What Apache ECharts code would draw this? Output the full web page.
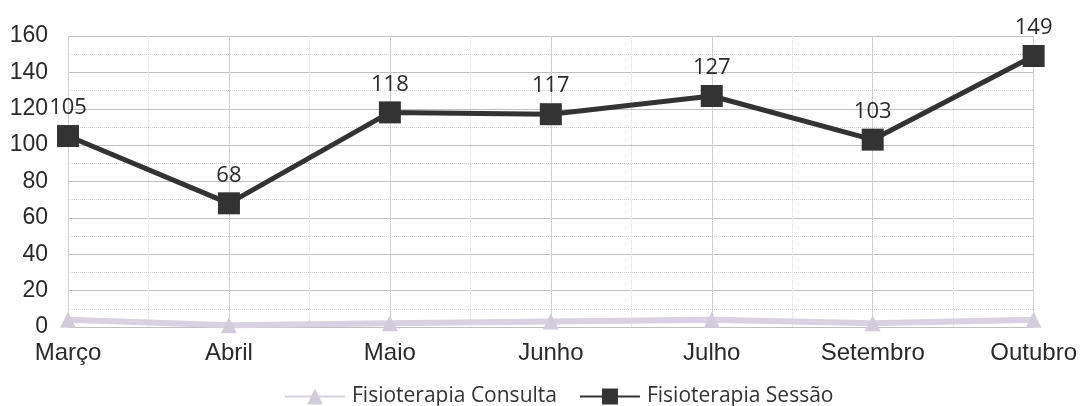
<!DOCTYPE html>
<html><head><meta charset="utf-8">
<script src="https://cdn.jsdelivr.net/npm/echarts@6/dist/echarts.min.js"></script>
<style>html,body{margin:0;padding:0;background:#fff}#c{width:1080px;height:406px}</style>
</head><body><div id="c"></div>
<script>
const categories = ['Março','Abril','Maio','Junho','Julho','Setembro','Outubro'];
const consulta = [4, 1, 2, 3, 4, 2, 4];
const sessao = [105, 68, 118, 117, 127, 103, 149];
const yTicks = {min: 0, max: 160, interval: 20};

const chart = echarts.init(document.getElementById('c'));
chart.setOption({
  animation: false,
  grid: {left: 68, right: 46, top: 36, bottom: 79, containLabel: false},
  legend: {
    top: 381, left: 279, itemWidth: 60, itemHeight: 20, itemGap: 22,
    textStyle: {fontFamily: 'Open Sans', fontSize: 21, color: '#333', padding: [0,0,0,2]},
    data: ['Fisioterapia Consulta','Fisioterapia Sessão']
  },
  xAxis: [{
    type: 'category', data: categories, boundaryGap: false,
    axisLine: {show: false}, axisTick: {show: false},
    axisLabel: {fontFamily: 'Liberation Sans', fontSize: 24, color: '#2a2a2a', margin: 14},
    splitLine: {show: true, lineStyle: {color: '#c4c4c4', width: 1}}
  },{
    type: 'value', min: 0, max: 6, interval: 0.5, show: true,
    axisLine: {show: false}, axisTick: {show: false}, axisLabel: {show: false},
    splitLine: {show: true, lineStyle: {color: '#dcdcdc', type: 'dotted', width: 1}}
  }],
  yAxis: {
    type: 'value', min: yTicks.min, max: yTicks.max, interval: yTicks.interval,
    axisLine: {show: false}, axisTick: {show: false},
    axisLabel: {fontFamily: 'Liberation Sans', fontSize: 23, color: '#2a2a2a', margin: 20},
    splitLine: {show: true, lineStyle: {color: '#c0c0c0', width: 1}},
    minorTick: {show: false, splitNumber: 2},
    minorSplitLine: {show: true, lineStyle: {color: '#d4d4d4', type: 'dotted'}}
  },
  series: [{
    name: 'Fisioterapia Consulta', type: 'line', data: consulta, xAxisIndex: 0,
    symbol: 'triangle', symbolSize: 16,
    lineStyle: {color: '#d8d2e2', width: 6},
    itemStyle: {color: '#d2ccdc'}, z: 3
  },{
    name: 'Fisioterapia Sessão', type: 'line', data: sessao, xAxisIndex: 0,
    symbol: 'rect', symbolSize: 22,
    lineStyle: {color: '#333333', width: 5},
    itemStyle: {color: '#333333'}, z: 4,
    label: {show: true, position: 'top', distance: 6, fontFamily: 'Open Sans', fontSize: 22, color: '#2a2a2a'}
  }]
});
</script></body></html>
